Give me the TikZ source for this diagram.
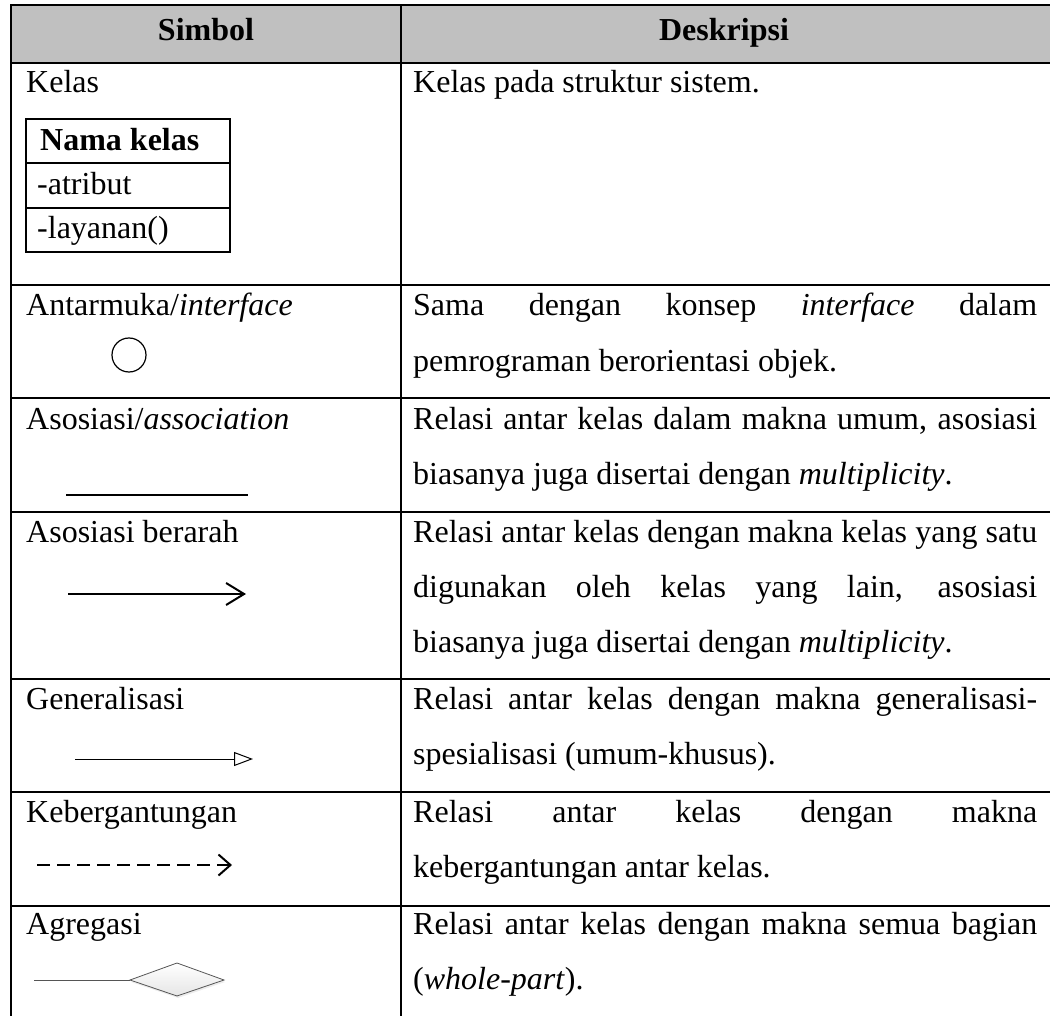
\documentclass[tikz,border=0pt]{standalone}
\usepackage{fontspec}
\setmainfont{Liberation Serif}
\usepackage{xcolor}
\usetikzlibrary{arrows.meta}
\usetikzlibrary{shadows}

\definecolor{kepala}{HTML}{C0C0C0}
\definecolor{abutua}{HTML}{555555}

\tikzset{
  teks/.style={anchor=base west, inner sep=0pt, font=\fontsize{32}{38}\selectfont},
  judul/.style={anchor=base, inner sep=0pt, font=\fontsize{32}{38}\selectfont\bfseries},
  garis/.style={line width=1.8pt},
}
% justified line of the description column
\newcommand{\rata}[1]{\makebox[624pt][s]{#1}}

\begin{document}
\begin{tikzpicture}[x=1pt, y=-1pt]
	\useasboundingbox (0,0) rectangle (1050,1016);
	% header background
	\fill[kepala] (11,5) rectangle (1052,63);
	% table grid
	\draw[garis] (1052,5) -- (11,5) -- (11,1020);
	\draw[garis] (401,5) -- (401,1020);
	\foreach \y in {63,285,398,512,679,792,906}
		\draw[garis] (11,\y) -- (1052,\y);
	% header
	\node[judul] (hsimbol) at (206,41) {Simbol};
	\node[judul] (hdeskripsi) at (724,41) {Deskripsi};

	% Kelas
	\node[teks] (kelas) at (26,93) {Kelas};
	\draw[line width=1.5pt] (26,119) rectangle (230,252);
	\draw[line width=1.5pt] (26,163) -- (230,163);
	\draw[line width=1.5pt] (26,208) -- (230,208);
	\node[teks] (namakelas) at (40,151) {\bfseries Nama kelas};
	\node[teks] (atribut) at (37,195) {-atribut};
	\node[teks] (layanan) at (37,239) {-layanan()};
	\node[teks] (dkelas) at (413,93) {Kelas pada struktur sistem.};

	% Antarmuka
	\node[teks] (antarmuka) at (26,316) {Antarmuka/\textit{interface}};
	\draw[line width=1.2pt] (129,355) circle[radius=17pt];
	\node[teks] (dantar1) at (413,316) {\rata{Sama dengan konsep \textit{interface} dalam}};
	\node[teks] (dantar2) at (413,371) {pemrograman berorientasi objek.};

	% Asosiasi
	\node[teks] (asosiasi) at (26,429) {Asosiasi/\textit{association}};
	\draw[line width=2pt] (66,495) -- (248,495);
	\node[teks] (dasos1) at (413,429) {\rata{Relasi antar kelas dalam makna umum, asosiasi}};
	\node[teks] (dasos2) at (413,484) {biasanya juga disertai dengan \textit{multiplicity}.};

	% Asosiasi berarah
	\node[teks] (berarah) at (26,542) {Asosiasi berarah};
	\draw[line width=2pt, -{Straight Barb[length=18pt, width=22pt]}] (68,594) -- (246,594);
	\node[teks] (dberarah1) at (413,542) {\rata{Relasi antar kelas dengan makna kelas yang satu}};
	\node[teks] (dberarah2) at (413,597) {\rata{digunakan oleh kelas yang lain, asosiasi}};
	\node[teks] (dberarah3) at (413,652) {biasanya juga disertai dengan \textit{multiplicity}.};

	% Generalisasi
	\node[teks] (generalisasi) at (26,709) {Generalisasi};
	\draw[line width=1pt, -{Triangle[open, length=19pt, width=14pt, fill=white]}] (75,759) -- (253,759);
	\node[teks] (dgeneral1) at (413,709) {\rata{Relasi antar kelas dengan makna generalisasi-}};
	\node[teks] (dgeneral2) at (413,764) {spesialisasi (umum-khusus).};

	% Kebergantungan
	\node[teks] (kebergantungan) at (26,822) {Kebergantungan};
	\draw[line width=2pt, dash pattern=on 13pt off 7pt, -{Straight Barb[length=12pt, width=21pt]}] (37,865) -- (232,865);
	\node[teks] (dkeberg1) at (413,822) {\rata{Relasi antar kelas dengan makna}};
	\node[teks] (dkeberg2) at (413,877) {kebergantungan antar kelas.};

	% Agregasi
	\node[teks] (agregasi) at (26,934) {Agregasi};
	\draw[abutua, line width=1pt] (34,980) -- (130,980);
	\draw[abutua, line width=0.8pt, top color=white, bottom color=gray!20,
		drop shadow={opacity=0.15, shadow xshift=1pt, shadow yshift=-2pt}]
		(130,980) -- (177,963) -- (224,980) -- (177,996) -- cycle;
	\node[teks] (dagregasi1) at (413,934) {\rata{Relasi antar kelas dengan makna semua bagian}};
	\node[teks] (dagregasi2) at (413,989) {(\textit{whole-part}).};
\end{tikzpicture}
\end{document}
